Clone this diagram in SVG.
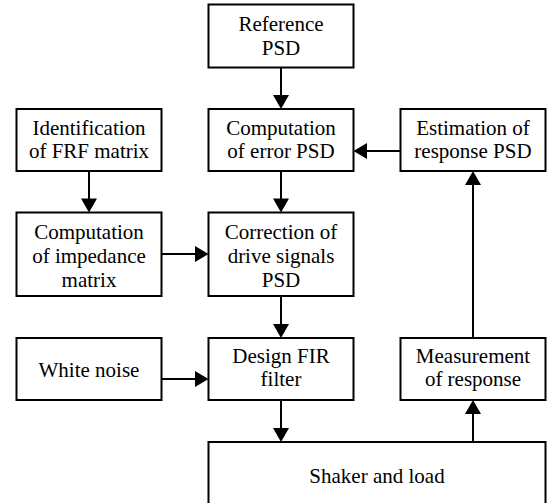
<svg xmlns="http://www.w3.org/2000/svg" width="547" height="503" viewBox="0 0 547 503">
<rect width="547" height="503" fill="#fff"/>
<g id="connectors" stroke="#000" stroke-width="2" fill="#000">
<line x1="281" y1="67.5" x2="281" y2="96"/><polygon stroke="none" points="273,95 289,95 281,109"/>
<line x1="400.5" y1="151" x2="366" y2="151"/><polygon stroke="none" points="367,143 367,159 353.5,151"/>
<line x1="89" y1="171" x2="89" y2="199"/><polygon stroke="none" points="81,198.5 97,198.5 89,212.5"/>
<line x1="281" y1="171" x2="281" y2="199"/><polygon stroke="none" points="273,198.5 289,198.5 281,212.5"/>
<line x1="161.5" y1="254" x2="196" y2="254"/><polygon stroke="none" points="195,246 195,262 208.5,254"/>
<line x1="281" y1="296" x2="281" y2="325"/><polygon stroke="none" points="273,324 289,324 281,338"/>
<line x1="161.5" y1="379" x2="196" y2="379"/><polygon stroke="none" points="195,371 195,387 208.5,379"/>
<line x1="281" y1="400" x2="281" y2="429"/><polygon stroke="none" points="273,428 289,428 281,442"/>
<line x1="473" y1="442" x2="473" y2="413"/><polygon stroke="none" points="465,414 481,414 473,400"/>
<line x1="473" y1="338" x2="473" y2="184"/><polygon stroke="none" points="465,185 481,185 473,171"/>
</g>
<g id="reference">
<rect x="208.5" y="4.5" width="145" height="63" fill="#fff" stroke="#000" stroke-width="2"/>
<text x="281" y="31" font-family="Liberation Serif" font-size="21" text-anchor="middle">Reference</text>
<text x="281" y="55" font-family="Liberation Serif" font-size="21" text-anchor="middle">PSD</text>
</g>
<g id="identification">
<rect x="16.5" y="109" width="145" height="62" fill="#fff" stroke="#000" stroke-width="2"/>
<text x="89" y="134.5" font-family="Liberation Serif" font-size="21" text-anchor="middle">Identification</text>
<text x="89" y="158" font-family="Liberation Serif" font-size="21" text-anchor="middle">of FRF matrix</text>
</g>
<g id="comp-error">
<rect x="208.5" y="109" width="145" height="62" fill="#fff" stroke="#000" stroke-width="2"/>
<text x="281" y="134.5" font-family="Liberation Serif" font-size="21" text-anchor="middle">Computation</text>
<text x="281" y="158" font-family="Liberation Serif" font-size="21" text-anchor="middle">of error PSD</text>
</g>
<g id="estimation">
<rect x="400.5" y="109" width="145" height="62" fill="#fff" stroke="#000" stroke-width="2"/>
<text x="473" y="134.5" font-family="Liberation Serif" font-size="21" text-anchor="middle">Estimation of</text>
<text x="473" y="158" font-family="Liberation Serif" font-size="21" text-anchor="middle">response PSD</text>
</g>
<g id="impedance">
<rect x="16.5" y="212.5" width="145" height="83.5" fill="#fff" stroke="#000" stroke-width="2"/>
<text x="89" y="238.5" font-family="Liberation Serif" font-size="21" text-anchor="middle">Computation</text>
<text x="89" y="262.5" font-family="Liberation Serif" font-size="21" text-anchor="middle">of impedance</text>
<text x="89" y="286.5" font-family="Liberation Serif" font-size="21" text-anchor="middle">matrix</text>
</g>
<g id="correction">
<rect x="208.5" y="212.5" width="145" height="83.5" fill="#fff" stroke="#000" stroke-width="2"/>
<text x="281" y="238.5" font-family="Liberation Serif" font-size="21" text-anchor="middle">Correction of</text>
<text x="281" y="262.5" font-family="Liberation Serif" font-size="21" text-anchor="middle">drive signals</text>
<text x="281" y="286.5" font-family="Liberation Serif" font-size="21" text-anchor="middle">PSD</text>
</g>
<g id="white-noise">
<rect x="16.5" y="338" width="145" height="62" fill="#fff" stroke="#000" stroke-width="2"/>
<text x="89" y="376.5" font-family="Liberation Serif" font-size="21" text-anchor="middle">White noise</text>
</g>
<g id="design-fir">
<rect x="208.5" y="338" width="145" height="62" fill="#fff" stroke="#000" stroke-width="2"/>
<text x="281" y="362.5" font-family="Liberation Serif" font-size="21" text-anchor="middle">Design FIR</text>
<text x="281" y="386" font-family="Liberation Serif" font-size="21" text-anchor="middle">filter</text>
</g>
<g id="measurement">
<rect x="400.5" y="338" width="145" height="62" fill="#fff" stroke="#000" stroke-width="2"/>
<text x="473" y="362.5" font-family="Liberation Serif" font-size="21" text-anchor="middle">Measurement</text>
<text x="473" y="386" font-family="Liberation Serif" font-size="21" text-anchor="middle">of response</text>
</g>
<g id="shaker">
<rect x="208.5" y="442" width="337" height="64" fill="#fff" stroke="#000" stroke-width="2"/>
<text x="377" y="483" font-family="Liberation Serif" font-size="21" text-anchor="middle">Shaker and load</text>
</g>
</svg>
